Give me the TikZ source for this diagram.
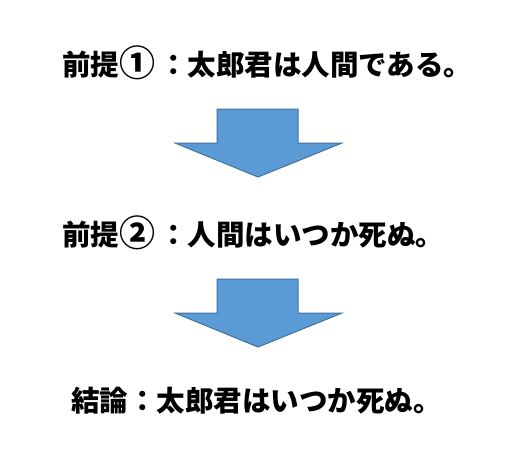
\documentclass[tikz,border=0pt]{standalone}
\usepackage{fontspec}
\usepackage{xcolor}
\usetikzlibrary{positioning}
\newfontfamily\jpfont{Noto Sans CJK JP}
\definecolor{ArrowBlue}{RGB}{91,155,213}
\definecolor{ArrowEdge}{RGB}{65,113,156}
\newcommand{\fullnum}[1]{\makebox[1.4em][l]{\raisebox{-1.5pt}{\fontsize{36pt}{36pt}\selectfont #1}}}

\begin{document}
\begin{tikzpicture}[x=1pt,y=-1pt,
    sentence/.style={inner sep=0pt,anchor=west,font={\jpfont\bfseries\fontsize{28.5pt}{32pt}\selectfont}},
    downarrow/.style={fill=ArrowBlue,draw=ArrowEdge,line width=1pt,line join=miter}]
    \useasboundingbox[fill=white] (0,0) rectangle (526,467);
    \node[sentence] (prem1) at (62,63) {前提\fullnum{①}：太郎君は人間である。};
    \node[sentence] (prem2) at (62,233) {前提\fullnum{②}：人間はいつか死ぬ。};
    \node[sentence] (concl) at (71,401) {結論：太郎君はいつか死ぬ。};
    % block arrows between the lines
    \foreach \t in {109,279}
        \draw[downarrow] (217,\t) -- (298,\t) -- (298,\t+34) -- (342,\t+34)
            -- (258,\t+68) -- (175,\t+34) -- (217,\t+34) -- cycle;
\end{tikzpicture}
\end{document}
